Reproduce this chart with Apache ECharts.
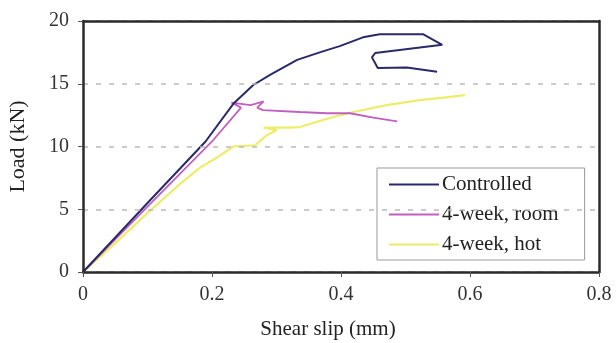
<!DOCTYPE html>
<html>
<head>
<meta charset="utf-8">
<script src="https://cdn.jsdelivr.net/npm/echarts@6/dist/echarts.min.js"></script>
<style>
  html, body { margin: 0; padding: 0; background: #fff; }
  #chart { width: 616px; height: 343px; }
</style>
</head>
<body>
<div id="chart"></div>
<script>
// values: slip in mm, load in kN
const seriesNames = ['Controlled', '4-week, room', '4-week, hot'];

const controlledSlip = [0, 0.1, 0.19, 0.233, 0.264, 0.29, 0.332, 0.367, 0.398, 0.434, 0.46, 0.527, 0.557, 0.453, 0.448, 0.457, 0.502, 0.549];
const controlledLoad = [0, 5.5, 10.4, 13.4, 14.9, 15.7, 16.9, 17.5, 18.0, 18.7, 18.95, 18.95, 18.1, 17.45, 17.1, 16.25, 16.3, 15.95];

const roomSlip = [0, 0.1, 0.2, 0.245, 0.23, 0.26, 0.28, 0.27, 0.279, 0.336, 0.378, 0.414, 0.45, 0.487];
const roomLoad = [0, 5.2, 10.4, 13.1, 13.5, 13.3, 13.6, 13.1, 12.9, 12.75, 12.65, 12.65, 12.3, 12.0];

const hotSlip = [0, 0.05, 0.1, 0.15, 0.181, 0.21, 0.233, 0.267, 0.285, 0.3, 0.28, 0.32, 0.336, 0.388, 0.419, 0.471, 0.522, 0.56, 0.592];
const hotLoad = [0, 2.3, 4.7, 7.0, 8.3, 9.2, 10.0, 10.1, 10.9, 11.3, 11.5, 11.5, 11.55, 12.35, 12.75, 13.3, 13.7, 13.9, 14.1];

const xTicks = [0, 0.2, 0.4, 0.6, 0.8];
const yTicks = [0, 5, 10, 15, 20];

function pairs(xs, ys) {
  return xs.map((x, i) => [x, ys[i]]);
}

const chart = echarts.init(document.getElementById('chart'));
const serif = '"Liberation Serif", "Times New Roman", serif';
const frame = { color: '#2a2a2a', width: 2.5 };

chart.setOption({
  animation: false,
  backgroundColor: '#fff',
  grid: {
    left: 83,
    right: 17,
    top: 21,
    bottom: 71,
    outerBoundsMode: 'none',
  },
  legend: {
    data: seriesNames,
    orient: 'vertical',
    left: 377,
    top: 168,
    padding: [6, 26, 5, 12],
    icon: 'rect',
    itemWidth: 50,
    itemHeight: 2,
    itemGap: 9,
    backgroundColor: '#fff',
    borderColor: '#999',
    borderWidth: 1,
    textStyle: { fontFamily: serif, fontSize: 21, lineHeight: 21, color: '#222', padding: [0, 0, 0, -2] },
  },
  xAxis: [
    {
      type: 'value',
      min: xTicks[0],
      max: xTicks[xTicks.length - 1],
      interval: 0.2,
      name: 'Shear slip (mm)',
      nameLocation: 'middle',
      nameGap: 47,
      nameTextStyle: { fontFamily: serif, fontSize: 21, color: '#222', padding: [0, 26, 0, 0] },
      axisLine: { show: true, onZero: false, lineStyle: frame },
      axisTick: { show: true, length: 5, lineStyle: { color: '#555' } },
      axisLabel: {
        margin: 13,
        fontFamily: serif,
        fontSize: 20,
        color: '#333',
        formatter: (v) => String(Math.round(v * 10) / 10),
      },
      splitLine: { show: false },
      z: 5,
    },
    {
      type: 'value',
      position: 'top',
      min: xTicks[0],
      max: xTicks[xTicks.length - 1],
      interval: 0.2,
      axisLine: { show: true, onZero: false, lineStyle: frame },
      axisTick: { show: false },
      axisLabel: { show: false },
      splitLine: { show: false },
      z: 5,
    },
  ],
  yAxis: [
    {
      type: 'value',
      min: yTicks[0],
      max: yTicks[yTicks.length - 1],
      interval: 5,
      name: 'Load (kN)',
      nameLocation: 'middle',
      nameGap: 54,
      nameTextStyle: { fontFamily: serif, fontSize: 22, color: '#222' },
      axisLine: { show: true, onZero: false, lineStyle: frame },
      axisTick: { show: true, length: 5, lineStyle: { color: '#555' } },
      axisLabel: { margin: 14, fontFamily: serif, fontSize: 20, color: '#333' },
      splitLine: { show: true, lineStyle: { color: '#bbb', type: [5, 8], width: 1.5 } },
      z: 5,
    },
    {
      type: 'value',
      position: 'right',
      min: yTicks[0],
      max: yTicks[yTicks.length - 1],
      interval: 5,
      axisLine: { show: true, onZero: false, lineStyle: frame },
      axisTick: { show: false },
      axisLabel: { show: false },
      splitLine: { show: false },
      z: 5,
    },
  ],
  series: [
    {
      name: seriesNames[0],
      type: 'line',
      data: pairs(controlledSlip, controlledLoad),
      symbol: 'none',
      lineStyle: { color: '#2a2a6a', width: 2 },
      itemStyle: { color: '#2a2a6a' },
      z: 3,
    },
    {
      name: seriesNames[1],
      type: 'line',
      data: pairs(roomSlip, roomLoad),
      symbol: 'none',
      lineStyle: { color: '#c060c0', width: 1.8 },
      itemStyle: { color: '#c060c0' },
      z: 2,
    },
    {
      name: seriesNames[2],
      type: 'line',
      data: pairs(hotSlip, hotLoad),
      symbol: 'none',
      lineStyle: { color: '#eded6a', width: 2.2 },
      itemStyle: { color: '#eded6a' },
      z: 1,
    },
  ],
});
</script>
</body>
</html>
